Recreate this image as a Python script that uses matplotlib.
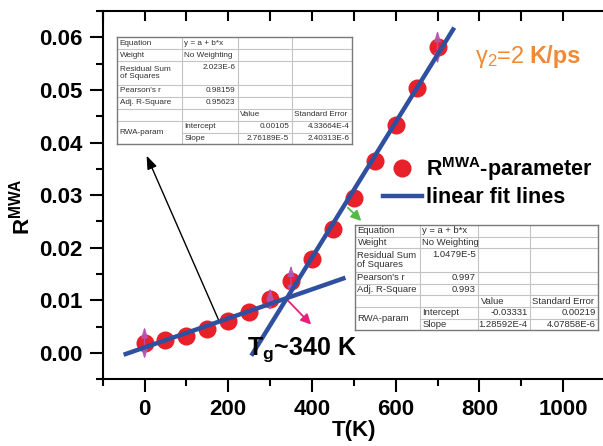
import numpy as np
import matplotlib
matplotlib.use("Agg")
import matplotlib.pyplot as plt
from matplotlib.lines import Line2D

plt.rcParams["font.family"] = ["Liberation Sans", "DejaVu Sans"]
plt.rcParams["mathtext.fontset"] = "custom"
plt.rcParams["mathtext.rm"] = "Liberation Sans"
plt.rcParams["mathtext.it"] = "Liberation Sans:italic"
plt.rcParams["mathtext.bf"] = "Liberation Sans:bold"
plt.rcParams["mathtext.default"] = "regular"

# -------- data --------
T = [0, 50, 100, 150, 200, 250, 300, 350, 400, 450, 500, 550, 600, 650, 700]
R = [0.0019, 0.0025, 0.0033, 0.0046, 0.0060, 0.0077, 0.0102, 0.0137,
     0.0178, 0.0236, 0.0295, 0.0364, 0.0433, 0.0503, 0.0581]

# points that show error bars (index into T / R) and their half widths
err_idx = [0, 6, 7, 14]
err_val = [0.0031, 0.0022, 0.0030, 0.0032]

# linear fits (intercept, slope) and the T range each line is drawn over
fit1 = (0.00105, 2.76189e-5)
fit1_range = [-50, 480]
fit2 = (-0.03331, 1.28592e-4)
fit2_range = [255, 740]

stat_names = ["Equation", "Weight", "Residual Sum\nof Squares", "Pearson's r", "Adj. R-Square"]
fit1_stats = ["y = a + b*x", "No Weighting", "2.023E-6", "0.98159", "0.95623"]
fit1_params = [["0.00105", "4.33664E-4"], ["2.76189E-5", "2.40313E-6"]]
fit2_stats = ["y = a + b*x", "No Weighting", "1.0479E-5", "0.997", "0.993"]
fit2_params = [["-0.03331", "0.00219"], ["1.28592E-4", "4.07858E-6"]]

W, H = 603, 446
RED = "#e8202a"
BLUE = "#2f4f9f"
PURPLE = "#b455b6"
ORANGE = "#f08a36"

fig = plt.figure(figsize=(W / 100, H / 100), dpi=100)
ax = fig.add_axes([102.7 / W, 1 - 379.3 / H, 502.2 / W, 368.3 / H])

ax.plot(T, R, "o", color=RED, ms=13, mec="none", zorder=3)

for i, e in zip(err_idx, err_val):
    ax.annotate("", xy=(T[i], R[i] + e), xytext=(T[i], R[i] - e),
                arrowprops=dict(arrowstyle="<|-|>,head_length=0.8,head_width=0.25",
                                color=PURPLE, lw=1.0, shrinkA=0, shrinkB=0,
                                mutation_scale=8, alpha=0.85), zorder=4)

for (a, b), rng in [(fit1, fit1_range), (fit2, fit2_range)]:
    x = np.array(rng, dtype=float)
    ax.plot(x, a + b * x, "-", color=BLUE, lw=3.2, solid_capstyle="butt", zorder=5)

ax.set_xlim(-100, 1100)
ax.set_ylim(-0.005, 0.065)
ax.set_xticks([0, 200, 400, 600, 800, 1000])
ax.set_xticks(np.arange(-100, 1100, 100), minor=True)
ax.set_yticks([0.00, 0.01, 0.02, 0.03, 0.04, 0.05, 0.06])
ax.set_yticks(np.arange(-0.005, 0.065, 0.01), minor=True)
ax.set_yticklabels(["0.00", "0.01", "0.02", "0.03", "0.04", "0.05", "0.06"])

for s in ["left", "bottom"]:
    ax.spines[s].set_linewidth(1.5)
ax.spines["top"].set_visible(False)
ax.spines["right"].set_visible(False)
ax.tick_params(which="major", direction="out", length=9.5, width=1.5, pad=5)
ax.tick_params(which="minor", direction="out", length=5, width=1.5)
for lab in ax.get_xticklabels() + ax.get_yticklabels():
    lab.set_fontsize(16)
    lab.set_fontweight("bold")

top = ax.secondary_xaxis("top")
top.set_xticks([0, 200, 400, 600, 800, 1000])
top.set_xticks(np.arange(-100, 1100, 100), minor=True)
top.spines["top"].set_linewidth(1.5)
top.tick_params(which="both", direction="in", length=7, width=1.5, labeltop=False)

ax.set_xlabel("T(K)", fontsize=16, fontweight="bold")
ax.xaxis.set_label_coords(0.5, -0.11)
ax.xaxis.label.set_va("top")
ax.set_ylabel(r"R$^{\mathbf{MWA}}$", fontsize=16, fontweight="bold")
ax.yaxis.set_label_coords(-0.135, 0.47)

# legend
handles = [Line2D([], [], ls="none", marker="o", color=RED, ms=13, mec="none"),
           Line2D([], [], color=BLUE, lw=3.2)]
labels = [r"R$^{\mathbf{MWA}}$-parameter", "linear fit lines"]
ax.legend(handles, labels, loc="upper left", bbox_to_anchor=(383 / W, 1 - 155 / H),
          bbox_transform=fig.transFigure, frameon=False, borderpad=0, borderaxespad=0,
          handlelength=1.8, handletextpad=0.2, labelspacing=0.2,
          prop={"size": 15.5, "weight": "bold"})

# annotations
fig.text(475 / W, 1 - 57 / H, r"$\gamma_2$=2 ", color=ORANGE, fontsize=17,
         va="center", ha="left")
fig.text(581 / W, 1 - 57 / H, "K/ps", color=ORANGE, fontsize=17, fontweight="bold",
         va="center", ha="right")
fig.text(247 / W, 1 - 350 / H, r"T$_{\mathbf{g}}$~340 K", fontsize=18, fontweight="bold",
         va="center", ha="left")

ax.annotate("", xy=(5, 0.0375), xytext=(179, 0.0059),
            arrowprops=dict(arrowstyle="-|>,head_length=0.8,head_width=0.3",
                            color="black", lw=1, mutation_scale=10, shrinkA=0, shrinkB=0))
ax.annotate("", xy=(518, 0.0251), xytext=(486, 0.0276),
            arrowprops=dict(arrowstyle="-|>,head_length=0.6,head_width=0.3",
                            color="#56b848", lw=1.3, mutation_scale=10, shrinkA=0, shrinkB=0))
ax.annotate("", xy=(398, 0.0054), xytext=(341, 0.0101),
            arrowprops=dict(arrowstyle="-|>,head_length=0.6,head_width=0.3",
                            color="#e8207a", lw=1.3, mutation_scale=10, shrinkA=0, shrinkB=0))


def draw_table(cols, y0, rowh, stats, params, fs):
    y1 = y0 + 9 * rowh
    tab = fig.add_axes([cols[0] / W, 1 - y1 / H, (cols[-1] - cols[0]) / W, (y1 - y0) / H])
    tab.set_xlim(cols[0], cols[-1])
    tab.set_ylim(y1, y0)
    tab.set_facecolor("white")
    for s in tab.spines.values():
        s.set_color("#7a7a7a")
        s.set_linewidth(1)
    tab.set_xticks([])
    tab.set_yticks([])
    rows = [y0 + k * rowh for k in [0, 1, 2, 4, 5, 6, 7, 8, 9]]
    grid = "#c4c4c4"
    for r in rows[1:-1]:
        start = cols[1] if r == rows[7] else cols[0]
        tab.plot([start, cols[-1]], [r, r], color=grid, lw=0.8)
    for c in cols[1:-1]:
        tab.plot([c, c], [y0, y1], color=grid, lw=0.8)
    pad = 2.5
    tc = "#303030"
    for k, name in enumerate(stat_names):
        tab.text(cols[0] + pad, (rows[k] + rows[k + 1]) / 2, name, fontsize=fs, color=tc,
                 va="center", ha="left", linespacing=1.0)
        if k < 2:
            tab.text(cols[1] + pad, (rows[k] + rows[k + 1]) / 2, stats[k], fontsize=fs,
                     color=tc, va="center", ha="left")
        else:
            tab.text(cols[2] - pad, rows[k] + rowh / 2, stats[k], fontsize=fs,
                     color=tc, va="center", ha="right")
    tab.text(cols[2] + pad, (rows[5] + rows[6]) / 2, "Value", fontsize=fs, color=tc,
             va="center", ha="left")
    tab.text(cols[3] + pad, (rows[5] + rows[6]) / 2, "Standard Error", fontsize=fs,
             color=tc, va="center", ha="left")
    tab.text(cols[0] + pad, rows[7], "RWA-param", fontsize=fs, color=tc,
             va="center", ha="left")
    for j, (nm, vals) in enumerate(zip(["Intercept", "Slope"], params)):
        yc = (rows[6 + j] + rows[7 + j]) / 2
        tab.text(cols[1] + pad, yc, nm, fontsize=fs, color=tc, va="center", ha="left")
        tab.text(cols[3] - pad, yc, vals[0], fontsize=fs, color=tc, va="center", ha="right")
        tab.text(cols[4] - pad, yc, vals[1], fontsize=fs, color=tc, va="center", ha="right")


draw_table([117.3, 181.7, 237.7, 291.7, 352.3], 37.3, 11.9, fit1_stats, fit1_params, 5.9)
draw_table([355, 420, 478.3, 530, 598], 225, 11.7, fit2_stats, fit2_params, 6.8)

plt.savefig("out.png", dpi=100)
